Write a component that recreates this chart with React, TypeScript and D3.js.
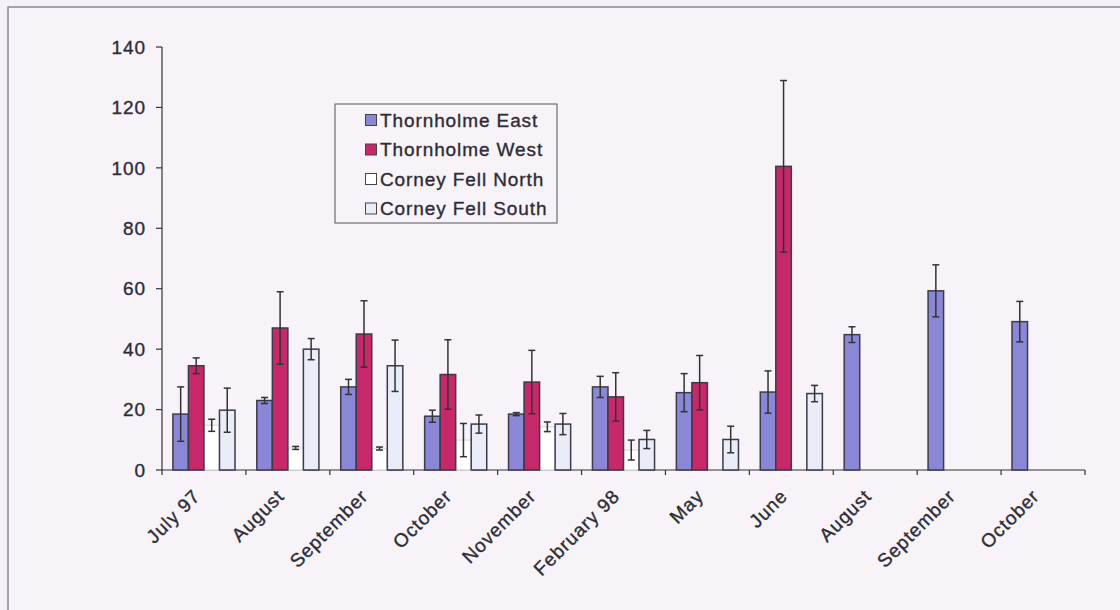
import React from "react";
import * as d3 from "d3";

const categories = ["July 97", "August", "September", "October", "November", "February 98", "May", "June", "August", "September", "October"];
const seriesNames = ["Thornholme East", "Thornholme West", "Corney Fell North", "Corney Fell South"];
const thornEast = [18.5, 23, 27.5, 17.8, 18.5, 27.5, 25.6, 25.8, 44.8, 59.3, 49.1];
const thornEastErr = [9, 1, 2.5, 2, 0.5, 3.5, 6.3, 7, 2.6, 8.6, 6.7];
const thornWest = [34.5, 47, 45, 31.6, 29.1, 24.2, 28.9, 100.5, null, null, null];
const thornWestErr = [2.6, 12, 11, 11.5, 10.5, 8, 9, 28.4, null, null, null];
const corneyNorth = [14.8, 7.3, 7.1, 9.9, 14.3, 6.6, null, null, null, null, null];
const corneyNorthErr = [2, 0.5, 0.5, 5.5, 1.6, 3.3, null, null, null, null, null];
const corneySouth = [19.8, 40, 34.5, 15.2, 15.2, 10.1, 10.1, 25.3, null, null, null];
const corneySouthErr = [7.3, 3.5, 8.5, 3, 3.5, 3, 4.4, 2.7, null, null, null];
const yTicks = [0, 20, 40, 60, 80, 100, 120, 140];

const values = [thornEast, thornWest, corneyNorth, corneySouth];
const errors = [thornEastErr, thornWestErr, corneyNorthErr, corneySouthErr];
const fills = ["#8a88d6", "#c6286a", "#ffffff", "#eaedf8"];
const strokes = ["#3d3a4a", "#3d3a4a", "#e2dee6", "#3d3a4a"];
const drawOrder = [2, 0, 1, 3];

const W = 1120;
const H = 610;
const left = 162;
const right = 1085;
const top = 47;
const bottom = 470;
const font = "'Liberation Sans', Arial, sans-serif";
const textColor = "#2e2c36";
const fs = 19;
const ls = 0.9;

export default function App() {
  const x = d3.scaleBand<string>().domain(categories.map((c, i) => i + "")).range([left, right]).paddingInner(0).paddingOuter(0);
  const y = d3.scaleLinear().domain([0, 140]).range([bottom, top]);
  const bw = x.bandwidth();
  const groupPad = bw * 0.13;
  const sub = d3.scaleBand<number>().domain([0, 1, 2, 3]).range([groupPad, bw - groupPad]).padding(0);
  const textProps = { fontSize: fs, letterSpacing: ls, fill: textColor, stroke: textColor, strokeWidth: 0.35 };

  return (
    <svg width={W} height={H} style={{ position: "absolute", left: 0, top: 0 }} fontFamily={font}>
      <rect x={0} y={0} width={W} height={H} fill="#f5f1f6" />
      <rect x={8} y={7} width={W + 20} height={H + 20} fill="#f7f3f8" stroke="#8a8890" strokeWidth={1.5} />
      {/* y axis */}
      <line x1={left} x2={left} y1={top} y2={bottom} stroke="#333" strokeWidth={1.2} />
      {yTicks.map((t) => (
        <g key={t}>
          <line x1={left - 6} x2={left} y1={y(t)} y2={y(t)} stroke="#333" strokeWidth={1.2} />
          <text x={left - 16} y={y(t)} dy="0.35em" textAnchor="end" {...textProps}>{t}</text>
        </g>
      ))}
      {/* x axis */}
      <line x1={left} x2={right} y1={bottom} y2={bottom} stroke="#333" strokeWidth={1.2} />
      {d3.range(categories.length + 1).map((i) => {
        const xx = left + i * bw;
        return <line key={i} x1={xx} x2={xx} y1={bottom} y2={bottom + 5} stroke="#333" strokeWidth={1.2} />;
      })}
      {/* bars */}
      {drawOrder.map((s) => (
        <g key={s}>
          {values[s].map((v, i) => {
            if (v === null) return null;
            const bx = (x(i + "") as number) + (sub(s) as number);
            return (
              <rect key={i} x={bx} y={y(v)} width={sub.bandwidth()} height={bottom - y(v)} fill={fills[s]} stroke={strokes[s]} strokeWidth={1.5} />
            );
          })}
        </g>
      ))}
      {/* error bars */}
      {values.map((vals, s) => (
        <g key={"e" + s} stroke="#333" strokeWidth={1.5}>
          {vals.map((v, i) => {
            const e = errors[s][i];
            if (v === null || e === null) return null;
            const cx = (x(i + "") as number) + (sub(s) as number) + sub.bandwidth() / 2;
            return (
              <g key={i}>
                <line x1={cx} x2={cx} y1={y(v + e)} y2={y(v - e)} />
                <line x1={cx - 3.5} x2={cx + 3.5} y1={y(v + e)} y2={y(v + e)} />
                <line x1={cx - 3.5} x2={cx + 3.5} y1={y(v - e)} y2={y(v - e)} />
              </g>
            );
          })}
        </g>
      ))}
      {/* x labels */}
      {categories.map((c, i) => {
        const cx = (x(i + "") as number) + bw / 2;
        return (
          <text key={i} transform={`translate(${cx - 12},${bottom + 18}) rotate(-45)`} textAnchor="end" dy="0.7em" {...textProps}>{c}</text>
        );
      })}
      {/* legend */}
      <rect x={335} y={104} width={222} height={119} fill="#f7f3f8" stroke="#555" strokeWidth={1} />
      {seriesNames.map((n, i) => {
        const ly = 120 + i * 29.5;
        return (
          <g key={n}>
            <rect x={365.5} y={ly - 5.5} width={11} height={11} fill={fills[i]} stroke="#444" strokeWidth={1} />
            <text x={380} y={ly} dy="0.36em" {...textProps}>{n}</text>
          </g>
        );
      })}
    </svg>
  );
}
